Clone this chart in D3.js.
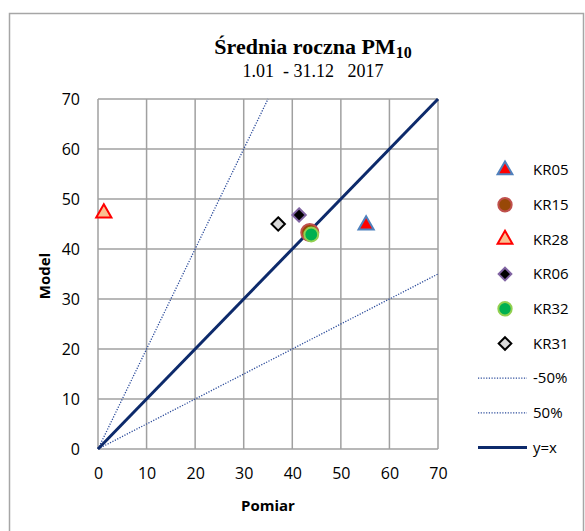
<!DOCTYPE html>
<html>
<head>
<meta charset="utf-8">
<script src="https://cdn.jsdelivr.net/npm/d3@7"></script>
<style>
  body { margin: 0; background: #fff; }
</style>
</head>
<body>
<script>
// chart size
var width = 585;
var height = 531;

// axis ticks
var xTicks = [0, 10, 20, 30, 40, 50, 60, 70];
var yTicks = [0, 10, 20, 30, 40, 50, 60, 70];

// stations (Pomiar, Model)
var stations = ["KR05", "KR15", "KR28", "KR06", "KR32", "KR31"];
var pomiar = [55.2, 43.6, 1.2, 41.4, 43.9, 37.1];
var model = [44.8, 43.3, 47.2, 46.8, 42.9, 45.0];

// reference lines
var lineNames = ["-50%", "50%", "y=x"];
var lineX = [[0, 70], [0, 35], [0, 70]];
var lineY = [[0, 35], [0, 70], [0, 70]];

var sans = "'Open Sans', Lato, sans-serif";
var serif = "'Liberation Serif', 'Times New Roman', serif";

// marker styles
var diamond = {
  draw: function(ctx, size) {
    var r = Math.sqrt(size / 2);
    ctx.moveTo(0, -r); ctx.lineTo(r, 0); ctx.lineTo(0, r); ctx.lineTo(-r, 0); ctx.closePath();
  }
};
var markerStyle = {
  KR05: {shape: d3.symbolTriangle, size: 100, fill: "#ff0000", stroke: "#4f81bd"},
  KR15: {shape: d3.symbolCircle, size: 230, fill: "#984807", stroke: "#c0504d"},
  KR28: {shape: d3.symbolTriangle, size: 100, fill: "#fac090", stroke: "#ff0000"},
  KR06: {shape: diamond, size: 90, fill: "#000000", stroke: "#8064a2"},
  KR32: {shape: d3.symbolCircle, size: 150, fill: "#00b050", stroke: "#92d050"},
  KR31: {shape: diamond, size: 90, fill: "#d9d9d9", stroke: "#000000"}
};
var legendSize = {KR05: 95, KR15: 140, KR28: 95, KR06: 80, KR32: 140, KR31: 80};

var svg = d3.select("body").append("svg")
  .attr("width", width)
  .attr("height", height);

// outer frame
svg.append("rect")
  .attr("x", 9.5).attr("y", 13.5)
  .attr("width", 574).attr("height", 530)
  .attr("fill", "none")
  .attr("stroke", "#a6a6a6")
  .attr("stroke-width", 1.5);

var x = d3.scaleLinear().domain([0, 70]).range([98, 438]);
var y = d3.scaleLinear().domain([0, 70]).range([449, 99]);

// grid
var grid = svg.append("g").attr("stroke", "#a0a0a0").attr("stroke-width", 1.5);
grid.selectAll(".vg").data(xTicks).enter().append("line")
  .attr("x1", function(d) { return x(d); }).attr("x2", function(d) { return x(d); })
  .attr("y1", y(0)).attr("y2", y(70));
grid.selectAll(".hg").data(yTicks).enter().append("line")
  .attr("y1", function(d) { return y(d); }).attr("y2", function(d) { return y(d); })
  .attr("x1", x(0)).attr("x2", x(70));

// axes (labels only)
var xAxis = svg.append("g")
  .attr("transform", "translate(0," + y(0) + ")")
  .call(d3.axisBottom(x).tickValues(xTicks).tickSize(0).tickPadding(19));
var yAxis = svg.append("g")
  .attr("transform", "translate(" + (x(0) - 18) + ",0)")
  .call(d3.axisLeft(y).tickValues(yTicks).tickSize(0).tickPadding(0));
[xAxis, yAxis].forEach(function(a) {
  a.select(".domain").remove();
  a.selectAll("text").attr("font-family", sans).attr("font-size", 16).attr("fill", "#000");
});

// axis titles
svg.append("text")
  .attr("x", 268).attr("y", 511)
  .attr("text-anchor", "middle")
  .attr("font-family", sans)
  .attr("font-size", 15).attr("font-weight", "bold")
  .text("Pomiar");
svg.append("text")
  .attr("transform", "translate(50,276) rotate(-90)")
  .attr("text-anchor", "middle")
  .attr("font-family", sans)
  .attr("font-size", 15).attr("font-weight", "bold")
  .text("Model");

// title
var title = svg.append("text")
  .attr("x", 313).attr("y", 54)
  .attr("text-anchor", "middle")
  .attr("font-family", serif)
  .attr("font-size", 22).attr("font-weight", "bold");
title.append("tspan").text("Średnia roczna PM");
title.append("tspan").attr("font-size", 16).attr("dy", 4).text("10");
svg.append("text")
  .attr("x", 313).attr("y", 77)
  .attr("text-anchor", "middle")
  .attr("font-family", serif)
  .attr("font-size", 18)
  .attr("xml:space", "preserve")
  .text("1.01  - 31.12   2017");

// reference lines
var line = d3.line()
  .x(function(d) { return x(d[0]); })
  .y(function(d) { return y(d[1]); });

function lineStyle(sel, name) {
  if (name === "y=x") {
    sel.attr("stroke", "#0d2a6b").attr("stroke-width", 3);
  } else {
    sel.attr("stroke", "#2a4a9a").attr("stroke-width", 1.3).attr("stroke-dasharray", "1.2,1.5");
  }
  return sel.attr("fill", "none");
}

lineNames.forEach(function(name, i) {
  var pts = lineX[i].map(function(v, j) { return [v, lineY[i][j]]; });
  svg.append("path").datum(pts).attr("d", line).call(lineStyle, name);
});

// points
stations.forEach(function(s, i) {
  var st = markerStyle[s];
  svg.append("path")
    .attr("d", d3.symbol().type(st.shape).size(st.size)())
    .attr("transform", "translate(" + x(pomiar[i]) + "," + y(model[i]) + ")")
    .attr("fill", st.fill)
    .attr("stroke", st.stroke)
    .attr("stroke-width", 2);
});

// legend
var legendX = 505;
var legendY0 = 170;
var legendStep = 34.7;
var legendItems = stations.concat(lineNames);
var legend = svg.selectAll(".legend").data(legendItems).enter().append("g")
  .attr("transform", function(d, i) { return "translate(" + legendX + "," + (legendY0 + i * legendStep) + ")"; });

legend.each(function(d) {
  var g = d3.select(this);
  if (markerStyle[d]) {
    var st = markerStyle[d];
    g.append("path")
      .attr("d", d3.symbol().type(st.shape).size(legendSize[d])())
      .attr("fill", st.fill)
      .attr("stroke", st.stroke)
      .attr("stroke-width", 2);
  } else {
    g.append("line").attr("x1", -27).attr("x2", 22).attr("y1", 0).attr("y2", 0).call(lineStyle, d);
  }
  g.append("text")
    .attr("x", 28).attr("dy", "0.35em")
    .attr("font-family", sans)
    .attr("font-size", 15)
    .text(d);
});
</script>
</body>
</html>
